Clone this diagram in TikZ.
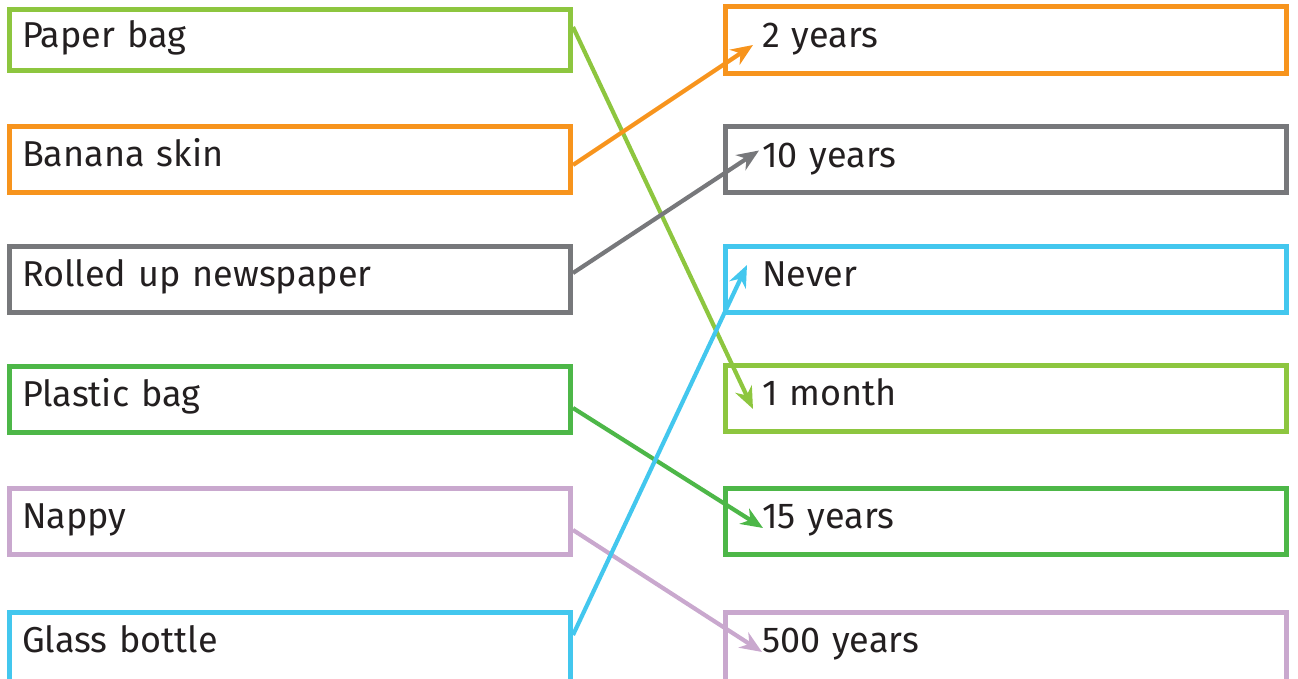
\documentclass[tikz,border=0pt]{standalone}
\usepackage{fontspec}
\setmainfont{Fira Sans}
\usetikzlibrary{arrows.meta}
\definecolor{bagGreen}{HTML}{8DC63F}
\definecolor{skinOrange}{HTML}{F7941D}
\definecolor{paperGray}{HTML}{77787B}
\definecolor{glassBlue}{HTML}{43C7EE}
\definecolor{plasticGreen}{HTML}{4DB748}
\definecolor{nappyLilac}{HTML}{C9A8CE}
\definecolor{txt}{HTML}{231F20}
\tikzset{
  thing/.style={draw=#1, line width=2.5pt, anchor=west, text width=268pt, inner xsep=6.25pt,
    minimum height=33pt, align=left, text height=7.5pt, text depth=0pt, text=txt,
    font=\fontsize{18}{21}\selectfont},
  time/.style={thing=#1, text width=244pt, inner xsep=18.25pt},
  link/.style={draw=#1, line width=2.1pt, -{Stealth[length=11pt, width=9pt, inset=3.5pt]}}
}

\begin{document}
\begin{tikzpicture}[x=0.5pt, y=-0.5pt]
        \useasboundingbox (0,0) rectangle (1298,679);
        % row1
        \node[thing=bagGreen, minimum height=30.5pt] (pbag) at (7,40) {Paper bag};
        \node[time=skinOrange, minimum height=33.5pt] (yr2) at (723,40) {2 years};
        % row2
        \node[thing=skinOrange] (banana) at (7,159.5) {Banana skin};
        \node[time=paperGray] (yr10) at (723,160) {10 years};
        % row3
        \node[thing=paperGray] (news) at (7,279.5) {Rolled up newspaper};
        \node[time=glassBlue] (never) at (723,279.5) {Never};
        % row4
        \node[thing=plasticGreen] (plastic) at (7,399.5) {Plastic bag};
        \node[time=bagGreen] (month) at (723,398.5) {1 month};
        % row5
        \node[thing=nappyLilac] (nappy) at (7,521.5) {Nappy};
        \node[time=plasticGreen] (yr15) at (723,521.5) {15 years};
        % row6
        \node[thing=glassBlue, minimum height=36pt, text height=4.5pt] (glass) at (7,648.5) {Glass bottle};
        \node[time=nappyLilac, minimum height=36pt, text height=4.5pt] (yr500) at (723,648.5) {500 years};
        % links
        \draw[link=bagGreen] ([yshift=6.5pt]pbag.east) -- ([xshift=15pt, yshift=-5.25pt]month.west);
        \draw[link=skinOrange] ([yshift=-2.75pt]banana.east) -- ([xshift=15pt, yshift=-2.5pt]yr2.west);
        \draw[link=paperGray] ([yshift=3.25pt]news.east) -- ([xshift=18pt, yshift=4.75pt]yr10.west);
        \draw[link=plasticGreen] ([yshift=-4.25pt]plastic.east) -- ([xshift=20pt, yshift=-3.25pt]yr15.west);
        \draw[link=nappyLilac] ([yshift=-4.25pt]nappy.east) -- ([xshift=19.5pt, yshift=-1.75pt]yr500.west);
        \draw[link=glassBlue] ([yshift=6.75pt]glass.east) -- ([xshift=12pt, yshift=7.25pt]never.west);
    \end{tikzpicture}
\end{document}
